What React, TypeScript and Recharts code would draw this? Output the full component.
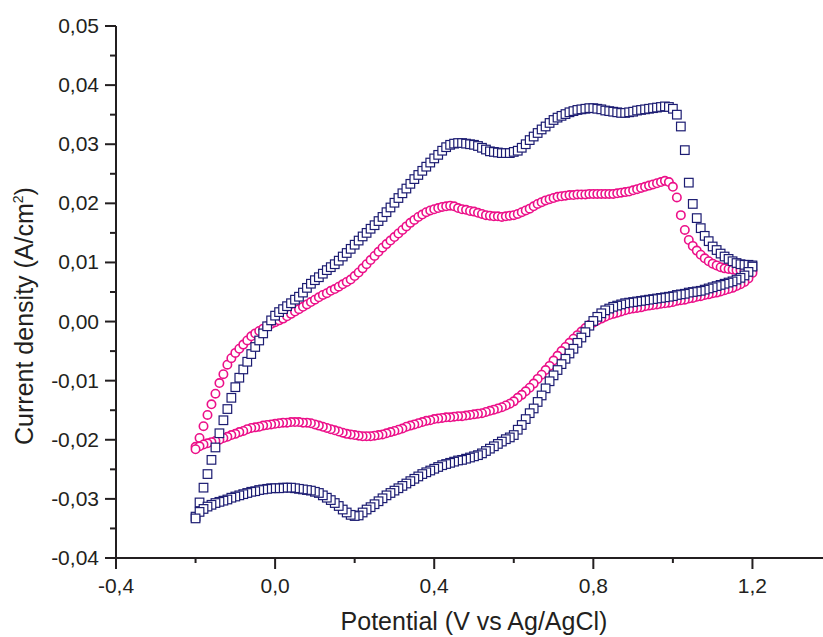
import React from 'react';
import { ScatterChart, Scatter, XAxis, YAxis } from 'recharts';

// ---------- data ----------
const potential = [
  -0.2, -0.19, -0.18, -0.17, -0.16, -0.15, -0.14, -0.13, -0.12, -0.11,
  -0.1, -0.09, -0.08, -0.07, -0.06, -0.05, -0.04, -0.03, -0.02, -0.01,
  0.0, 0.01, 0.02, 0.03, 0.04, 0.05, 0.06, 0.07, 0.08, 0.09,
  0.1, 0.11, 0.12, 0.13, 0.14, 0.15, 0.16, 0.17, 0.18, 0.19,
  0.2, 0.21, 0.22, 0.23, 0.24, 0.25, 0.26, 0.27, 0.28, 0.29,
  0.3, 0.31, 0.32, 0.33, 0.34, 0.35, 0.36, 0.37, 0.38, 0.39,
  0.4, 0.41, 0.42, 0.43, 0.44, 0.45, 0.46, 0.47, 0.48, 0.49,
  0.5, 0.51, 0.52, 0.53, 0.54, 0.55, 0.56, 0.57, 0.58, 0.59,
  0.6, 0.61, 0.62, 0.63, 0.64, 0.65, 0.66, 0.67, 0.68, 0.69,
  0.7, 0.71, 0.72, 0.73, 0.74, 0.75, 0.76, 0.77, 0.78, 0.79,
  0.8, 0.81, 0.82, 0.83, 0.84, 0.85, 0.86, 0.87, 0.88, 0.89,
  0.9, 0.91, 0.92, 0.93, 0.94, 0.95, 0.96, 0.97, 0.98, 0.99,
  1.0, 1.01, 1.02, 1.03, 1.04, 1.05, 1.06, 1.07, 1.08, 1.09,
  1.1, 1.11, 1.12, 1.13, 1.14, 1.15, 1.16, 1.17, 1.18, 1.19,
  1.2,
];

// navy squares, anodic (upper) branch, by potential
const navyForward = [
  -0.033, -0.0306, -0.0281, -0.0258, -0.0234, -0.0213, -0.0189, -0.0167, -0.0148, -0.0129,
  -0.0111, -0.0095, -0.0081, -0.0068, -0.0055, -0.0043, -0.0032, -0.002, -0.0008, 0.0002,
  0.001, 0.0016, 0.0021, 0.0026, 0.0031, 0.0037, 0.0042, 0.0049, 0.0057, 0.0064,
  0.007, 0.0075, 0.0081, 0.0087, 0.0092, 0.0097, 0.0103, 0.011, 0.0116, 0.0123,
  0.013, 0.0137, 0.0144, 0.015, 0.0157, 0.0163, 0.017, 0.0177, 0.0185, 0.0193,
  0.0201, 0.0209, 0.0217, 0.0225, 0.0233, 0.0241, 0.0248, 0.0255, 0.0262, 0.0269,
  0.0276, 0.0282, 0.0289, 0.0295, 0.0299, 0.0301, 0.0302, 0.0302, 0.0301, 0.03,
  0.0299, 0.0297, 0.0294, 0.0291, 0.0288, 0.0287, 0.0286, 0.0285, 0.0285, 0.0285,
  0.0287, 0.0289, 0.0294, 0.03, 0.0307, 0.0313, 0.0319, 0.0325, 0.033, 0.0336,
  0.0341, 0.0345, 0.0348, 0.0351, 0.0354, 0.0356, 0.0358, 0.0359, 0.036, 0.0361,
  0.0361, 0.036, 0.0359, 0.0357, 0.0356, 0.0355, 0.0354, 0.0353, 0.0353, 0.0354,
  0.0355, 0.0357, 0.0358, 0.0359, 0.036, 0.0361, 0.0362, 0.0363, 0.0364, 0.0363,
  0.036, 0.035, 0.033, 0.029, 0.0235, 0.0199, 0.0175, 0.0158, 0.0145, 0.0136,
  0.0127, 0.0121, 0.0115, 0.011, 0.0106, 0.0102, 0.0099, 0.0097, 0.0096, 0.0096,
  0.0095,
];

// navy squares, cathodic (lower) branch, by potential
const navyReverse = [
  -0.0333, -0.0322, -0.0317, -0.0313, -0.031, -0.0307, -0.0305, -0.0303, -0.0301, -0.0298,
  -0.0296, -0.0294, -0.0292, -0.029, -0.0288, -0.0287, -0.0285, -0.0284, -0.0283, -0.0282,
  -0.0282, -0.0282, -0.0281, -0.0281, -0.0281, -0.0282, -0.0283, -0.0284, -0.0285, -0.0286,
  -0.0288, -0.029, -0.0294, -0.0298, -0.0302, -0.0307, -0.0312, -0.0318, -0.0323, -0.0327,
  -0.0329, -0.0328, -0.0323, -0.0318, -0.0314, -0.0309, -0.0304, -0.0299, -0.0294, -0.029,
  -0.0286, -0.0282, -0.0278, -0.0274, -0.027, -0.0266, -0.0262, -0.0258, -0.0255, -0.0252,
  -0.0249, -0.0246, -0.0243, -0.0241, -0.0239, -0.0237, -0.0235, -0.0234, -0.0232, -0.023,
  -0.0228, -0.0226, -0.0223, -0.0219, -0.0215, -0.0211, -0.0207, -0.0203, -0.0199, -0.0196,
  -0.0192, -0.0183, -0.0175, -0.0165, -0.0155, -0.0147, -0.0136, -0.0125, -0.0113, -0.0101,
  -0.0091, -0.0082, -0.0072, -0.0063, -0.0054, -0.0046, -0.0036, -0.0027, -0.0018, -0.0007,
  0.0001, 0.0008, 0.0014, 0.0019, 0.0022, 0.0025, 0.0027, 0.0029, 0.0031, 0.0032,
  0.0033, 0.0034, 0.0035, 0.0036, 0.0037, 0.0038, 0.0039, 0.004, 0.0041, 0.0042,
  0.0043, 0.0045, 0.0046, 0.0047, 0.0049, 0.005, 0.0051, 0.0052, 0.0054, 0.0056,
  0.0058, 0.006, 0.0062, 0.0064, 0.0066, 0.0068, 0.0071, 0.0074, 0.0078, 0.0084,
  0.0093,
];

// magenta circles, anodic (upper) branch, by potential
const magentaForward = [
  -0.0212, -0.0197, -0.0177, -0.0158, -0.014, -0.0122, -0.0104, -0.0089, -0.0073, -0.0062,
  -0.0053, -0.0046, -0.0039, -0.0032, -0.0025, -0.002, -0.0016, -0.0012, -0.0008, -0.0004,
  -0.0001, 0.0002, 0.0005, 0.0009, 0.0013, 0.0017, 0.0021, 0.0025, 0.0029, 0.0033,
  0.0037, 0.0041, 0.0045, 0.0048, 0.0052, 0.0055, 0.0059, 0.0063, 0.0067, 0.0071,
  0.0077, 0.0083, 0.009, 0.0097, 0.0104, 0.0111, 0.0118, 0.0125, 0.0131, 0.0137,
  0.0143, 0.0149, 0.0155, 0.0161, 0.0167, 0.0172, 0.0177, 0.0181, 0.0185, 0.0188,
  0.019, 0.0192, 0.0194, 0.0195, 0.0196, 0.0195, 0.0192, 0.019, 0.0189, 0.0187,
  0.0186, 0.0184, 0.0182, 0.018, 0.0179, 0.0178, 0.0178, 0.0177, 0.0178, 0.0179,
  0.018, 0.0182, 0.0185, 0.0188, 0.0191, 0.0195, 0.0199, 0.0202, 0.0205, 0.0207,
  0.0209, 0.0211, 0.0212, 0.0213, 0.0214, 0.0214, 0.0215, 0.0215, 0.0215, 0.0216,
  0.0216, 0.0216, 0.0216, 0.0216, 0.0216, 0.0216, 0.0217, 0.0218, 0.0219, 0.022,
  0.0222, 0.0224, 0.0226, 0.0228, 0.023, 0.0232, 0.0234, 0.0236, 0.0238, 0.0236,
  0.0228, 0.021, 0.018, 0.0155, 0.0138, 0.0128, 0.012, 0.0113, 0.0107, 0.0102,
  0.0098, 0.0095, 0.0092, 0.009, 0.0089, 0.0088, 0.0087, 0.0087, 0.0086, 0.0086,
  0.0086,
];

// magenta circles, cathodic (lower) branch, by potential
const magentaReverse = [
  -0.0216, -0.0211, -0.0208, -0.0206, -0.0204, -0.0202, -0.02, -0.0197, -0.0195, -0.0192,
  -0.019, -0.0187, -0.0185, -0.0182, -0.018, -0.0179, -0.0178, -0.0176, -0.0175, -0.0174,
  -0.0173, -0.0172, -0.0171, -0.0171, -0.017, -0.017, -0.017, -0.0171, -0.0171, -0.0172,
  -0.0174, -0.0176, -0.0178, -0.018, -0.0182, -0.0184, -0.0186, -0.0188, -0.019, -0.0191,
  -0.0192, -0.0193, -0.0194, -0.0194, -0.0194, -0.0193, -0.0192, -0.0191, -0.0189, -0.0187,
  -0.0185, -0.0183, -0.0181, -0.0178, -0.0176, -0.0174, -0.0172, -0.017, -0.0168, -0.0167,
  -0.0165, -0.0164, -0.0163, -0.0162, -0.0162, -0.0161, -0.016, -0.016, -0.0159, -0.0158,
  -0.0157, -0.0156, -0.0155, -0.0153, -0.0151, -0.0149, -0.0147, -0.0145, -0.0142, -0.0139,
  -0.0135, -0.0129, -0.0124, -0.0118, -0.0112, -0.0105, -0.0097, -0.009, -0.0082, -0.0075,
  -0.0066, -0.0058, -0.005, -0.0043, -0.0036, -0.0029, -0.0023, -0.0017, -0.0011, -0.0006,
  -0.0002, 0.0002, 0.0005, 0.0008, 0.0011, 0.0013, 0.0015, 0.0017, 0.0019, 0.0021,
  0.0022, 0.0023, 0.0024, 0.0026, 0.0027, 0.0028, 0.0029, 0.003, 0.0031, 0.0032,
  0.0033, 0.0035, 0.0036, 0.0037, 0.0039, 0.004, 0.0042, 0.0043, 0.0045, 0.0046,
  0.0048, 0.0049, 0.0051, 0.0053, 0.0055, 0.0057, 0.006, 0.0063, 0.0067, 0.0073,
  0.0082,
];

const xMajorTicks = [-0.4, 0, 0.4, 0.8, 1.2];
const xMinorTicks = [-0.2, 0.2, 0.6, 1.0];
const yMajorTicks = [-0.04, -0.03, -0.02, -0.01, 0, 0.01, 0.02, 0.03, 0.04, 0.05];
const yMinorTicks = [-0.035, -0.025, -0.015, -0.005, 0.005, 0.015, 0.025, 0.035, 0.045];

const xLabel = 'Potential (V vs Ag/AgCl)';
const yLabel = 'Current density (A/cm';

// ---------- styling ----------
const AXIS = '#231f20';
const NAVY = '#1c1c72';
const MAGENTA = '#ec1089';
const FONT = '"Liberation Sans", Arial, Helvetica, sans-serif';

const xTicks = [...xMajorTicks, ...xMinorTicks].sort((a, b) => a - b);
const yTicks = [...yMajorTicks, ...yMinorTicks].sort((a, b) => a - b);

const buildLoop = (fwd: number[], rev: number[]) => [
  ...potential.map((x, i) => ({ x, y: fwd[i] })),
  ...potential.map((x, i) => ({ x, y: rev[i] })).reverse(),
];

const navyData = buildLoop(navyForward, navyReverse);
const magentaData = buildLoop(magentaForward, magentaReverse);

const isIn = (v: number, arr: number[]) => arr.some((m) => Math.abs(m - v) < 1e-9);
const xFmt = (v: number) => v.toFixed(1).replace('.', ',');
const yFmt = (v: number) => v.toFixed(2).replace('.', ',');

const BottomTick = (props: any) => {
  const { x, y, payload } = props;
  const major = isIn(payload.value, xMajorTicks);
  return (
    <g>
      <line x1={x} x2={x} y1={y} y2={y + (major ? 11 : 5)} stroke={AXIS} strokeWidth={2} />
      {major && (
        <text x={x} y={y + 35} textAnchor="middle" fontSize={21} fontFamily={FONT} fill={AXIS}>
          {xFmt(payload.value)}
        </text>
      )}
    </g>
  );
};

const TopTick = (props: any) => {
  const { x, y, payload } = props;
  const major = isIn(payload.value, xMajorTicks);
  return <line x1={x} x2={x} y1={y} y2={y + (major ? 10 : 6)} stroke={AXIS} strokeWidth={2} />;
};

const LeftTick = (props: any) => {
  const { x, y, payload } = props;
  const major = isIn(payload.value, yMajorTicks);
  return (
    <g>
      <line x1={x - (major ? 11 : 6)} x2={x} y1={y} y2={y} stroke={AXIS} strokeWidth={2} />
      {major && (
        <text x={x - 17} y={y + 7} textAnchor="end" fontSize={21} fontFamily={FONT} fill={AXIS}>
          {yFmt(payload.value)}
        </text>
      )}
    </g>
  );
};

const RightTick = (props: any) => {
  const { x, y, payload } = props;
  const major = isIn(payload.value, yMajorTicks);
  return <line x1={x - (major ? 10 : 6)} x2={x} y1={y} y2={y} stroke={AXIS} strokeWidth={2} />;
};

const SquareShape = (p: any) => (
  <rect x={p.cx - 4.3} y={p.cy - 4.3} width={8.6} height={8.6} fill="#ffffff" stroke={NAVY} strokeWidth={1.2} />
);
const CircleShape = (p: any) => (
  <circle cx={p.cx} cy={p.cy} r={4.2} fill="#ffffff" stroke={MAGENTA} strokeWidth={1.6} />
);

const XTitle = (props: any) => {
  const vb = props.viewBox;
  return (
    <text x={vb.x + vb.width / 2} y={vb.y + 71.5} textAnchor="middle" fontSize={25} fontFamily={FONT} fill={AXIS}>
      {xLabel}
    </text>
  );
};

const YTitle = (props: any) => {
  const vb = props.viewBox;
  const cx = vb.x + 33;
  const cy = vb.y + vb.height / 2 + 24;
  return (
    <text
      x={cx}
      y={cy}
      textAnchor="middle"
      fontSize={25}
      fontFamily={FONT}
      fill={AXIS}
      transform={`rotate(-90, ${cx}, ${cy})`}
    >
      {yLabel}
      <tspan fontSize={14} dy={-10}>2</tspan>
      <tspan dy={10}>)</tspan>
    </text>
  );
};

export default function App() {
  return (
    <div
      style={{
        position: 'fixed',
        left: 0,
        top: 0,
        width: 823,
        height: 637,
        overflow: 'hidden',
        background: '#ffffff',
      }}
    >
      <ScatterChart width={840} height={637} margin={{ top: 26, right: 8, bottom: 0, left: 0 }}>
        <XAxis
          xAxisId="b"
          type="number"
          dataKey="x"
          domain={[-0.4, 1.4]}
          allowDataOverflow
          ticks={xTicks}
          interval={0}
          height={79}
          tickSize={0}
          tickMargin={0}
          tickLine={false}
          tick={BottomTick}
          axisLine={{ stroke: AXIS, strokeWidth: 2 }}
          label={<XTitle />}
        />
        <XAxis
          xAxisId="t"
          orientation="top"
          type="number"
          dataKey="x"
          domain={[-0.4, 1.4]}
          allowDataOverflow
          ticks={xTicks}
          interval={0}
          height={0}
          tickSize={0}
          tickMargin={0}
          tickLine={false}
          tick={TopTick}
          axisLine={{ stroke: AXIS, strokeWidth: 2 }}
        />
        <YAxis
          yAxisId="l"
          type="number"
          dataKey="y"
          domain={[-0.04, 0.05]}
          allowDataOverflow
          ticks={yTicks}
          interval={0}
          width={116}
          tickSize={0}
          tickMargin={0}
          tickLine={false}
          tick={LeftTick}
          axisLine={{ stroke: AXIS, strokeWidth: 2 }}
          label={<YTitle />}
        />
        <YAxis
          yAxisId="r"
          orientation="right"
          type="number"
          dataKey="y"
          domain={[-0.04, 0.05]}
          allowDataOverflow
          ticks={yTicks}
          interval={0}
          width={0}
          tickSize={0}
          tickMargin={0}
          tickLine={false}
          tick={RightTick}
          axisLine={{ stroke: AXIS, strokeWidth: 2 }}
        />
        <Scatter
          xAxisId="b"
          yAxisId="l"
          data={magentaData}
          shape={CircleShape}
          isAnimationActive={false}
        />
        <Scatter
          xAxisId="b"
          yAxisId="l"
          data={navyData}
          shape={SquareShape}
          isAnimationActive={false}
        />
      </ScatterChart>
    </div>
  );
}
